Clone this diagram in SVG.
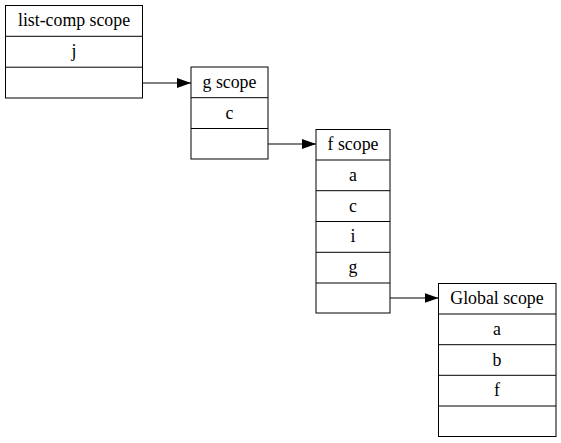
<svg xmlns="http://www.w3.org/2000/svg" width="561" height="443" viewBox="0 0 561 443">
<defs>
<style>
.box{fill:none;stroke:#000;stroke-width:1}
.t{font-family:"Liberation Serif","Times New Roman",serif;font-size:17.8px;text-anchor:middle;fill:#000}
.e{fill:none;stroke:#000;stroke-width:1}
</style>
<marker id="ah" markerWidth="14" markerHeight="10" refX="14" refY="5" orient="auto" markerUnits="userSpaceOnUse">
<path d="M0,0 L14,5 L0,10 Z" fill="#000"/>
</marker>
</defs>
<rect width="561" height="443" fill="#fff"/>
<g id="listcomp">
<rect class="box" x="5.5" y="5.5" width="137" height="92.5"/>
<line class="box" x1="5.5" y1="36.3" x2="142.5" y2="36.3"/>
<line class="box" x1="5.5" y1="67.2" x2="142.5" y2="67.2"/>
<text class="t" x="74" y="26.3">list-comp scope</text>
<text class="t" x="74" y="57.2">j</text>
</g>
<g id="gscope">
<rect class="box" x="191" y="67" width="77" height="92"/>
<line class="box" x1="191" y1="97.7" x2="268" y2="97.7"/>
<line class="box" x1="191" y1="128.5" x2="268" y2="128.5"/>
<text class="t" x="229.5" y="87.8">g scope</text>
<text class="t" x="229.5" y="118.5">c</text>
</g>
<g id="fscope">
<rect class="box" x="316" y="129.5" width="74" height="183.5"/>
<line class="box" x1="316" y1="160" x2="390" y2="160"/>
<line class="box" x1="316" y1="190.7" x2="390" y2="190.7"/>
<line class="box" x1="316" y1="221.5" x2="390" y2="221.5"/>
<line class="box" x1="316" y1="252.3" x2="390" y2="252.3"/>
<line class="box" x1="316" y1="283" x2="390" y2="283"/>
<text class="t" x="353" y="150.2">f scope</text>
<text class="t" x="353" y="180.8">a</text>
<text class="t" x="353" y="211.5">c</text>
<text class="t" x="353" y="242.3">i</text>
<text class="t" x="353" y="273">g</text>
</g>
<g id="global">
<rect class="box" x="438.5" y="283.5" width="117.5" height="153"/>
<line class="box" x1="438.5" y1="314" x2="556" y2="314"/>
<line class="box" x1="438.5" y1="344.7" x2="556" y2="344.7"/>
<line class="box" x1="438.5" y1="375.3" x2="556" y2="375.3"/>
<line class="box" x1="438.5" y1="406" x2="556" y2="406"/>
<text class="t" x="497" y="304.2">Global scope</text>
<text class="t" x="497" y="334.8">a</text>
<text class="t" x="497" y="365.5">b</text>
<text class="t" x="497" y="396.2">f</text>
</g>
<g id="edges">
<line class="e" x1="142.5" y1="83" x2="191" y2="83" marker-end="url(#ah)"/>
<line class="e" x1="268" y1="144" x2="316" y2="144" marker-end="url(#ah)"/>
<line class="e" x1="390" y1="298" x2="438.5" y2="298" marker-end="url(#ah)"/>
</g>
</svg>
